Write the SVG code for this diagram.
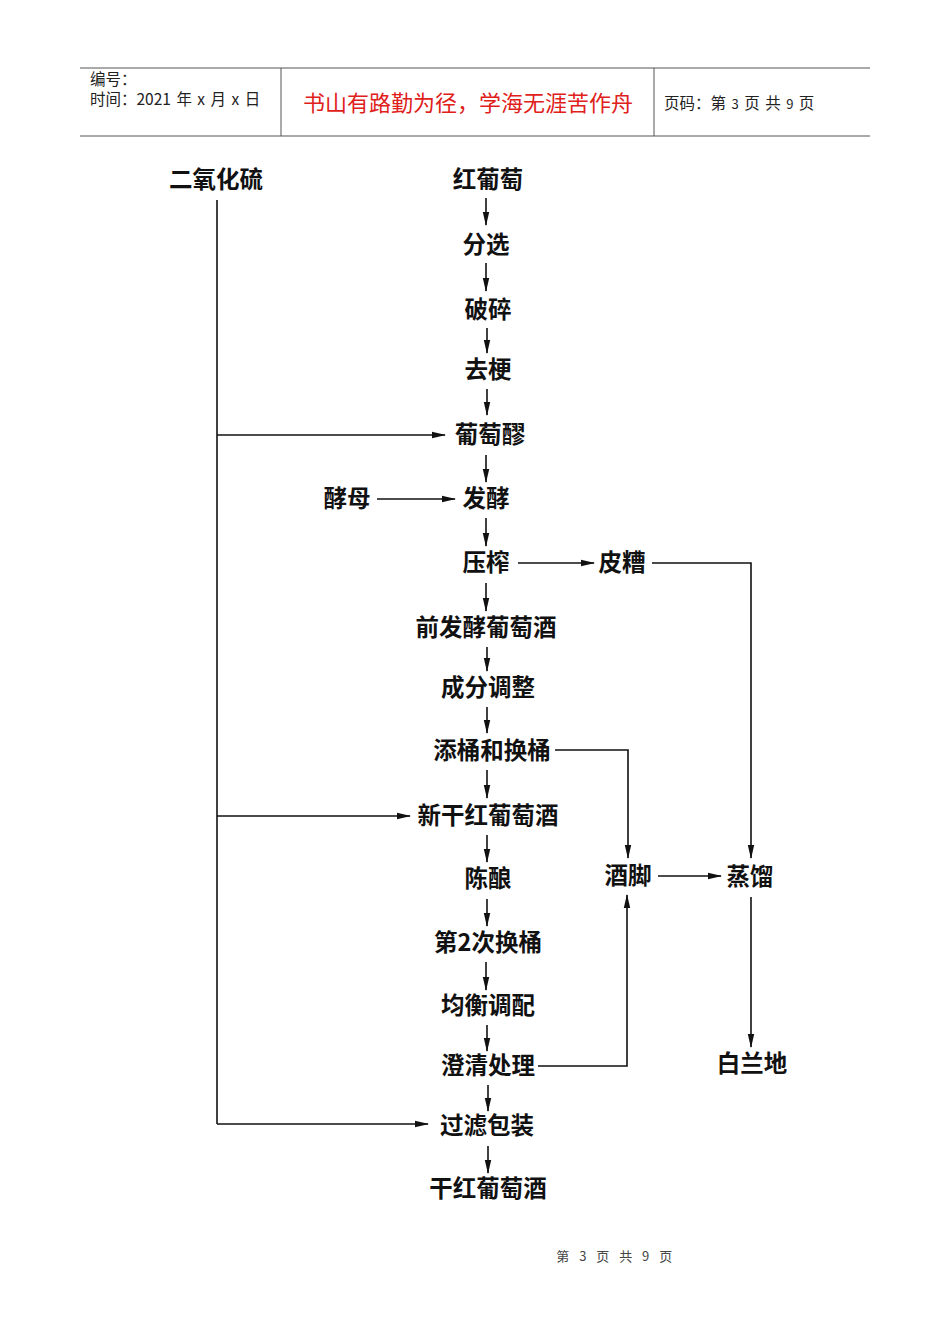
<svg xmlns="http://www.w3.org/2000/svg" width="950" height="1344" viewBox="0 0 950 1344">
<style>
.n{font-family:"Noto Sans CJK SC","Liberation Sans",sans-serif;font-size:23.5px;font-weight:bold;fill:#111;text-anchor:middle;dominant-baseline:central}
.h{font-family:"Noto Sans CJK SC","Liberation Sans",sans-serif;font-size:15.5px;fill:#222}
.c{fill:none;stroke:#111;stroke-width:1.6}
</style>
<defs>
<marker id="a" markerUnits="userSpaceOnUse" markerWidth="14" markerHeight="8" refX="13" refY="4" orient="auto">
<path d="M0,0.8 L14,4 L0,7.2 Z" fill="#111"/>
</marker>
</defs>
<rect width="950" height="1344" fill="#fff"/>
<g id="header">
<line x1="80" y1="68" x2="870" y2="68" stroke="#555" stroke-width="1"/>
<line x1="80" y1="136" x2="870" y2="136" stroke="#555" stroke-width="1"/>
<line x1="281" y1="68" x2="281" y2="136" stroke="#555" stroke-width="1"/>
<line x1="654" y1="68" x2="654" y2="136" stroke="#555" stroke-width="1"/>
<text class="h" x="90" y="85">编号：</text>
<text class="h" x="90" y="105" word-spacing="2">时间：2021 年 x 月 x 日</text>
<text x="468" y="111" font-family="Noto Sans CJK SC,sans-serif" font-size="22" fill="#e0201a" text-anchor="middle">书山有路勤为径，学海无涯苦作舟</text>
<text class="h" x="664" y="109" word-spacing="2">页码：第 <tspan font-size="13">3</tspan> 页  共 <tspan font-size="13">9</tspan> 页</text>
</g>
<g id="connectors">
<line class="c" x1="217" y1="200" x2="217" y2="1124"/>
<line class="c" x1="217" y1="435" x2="445" y2="435" marker-end="url(#a)"/>
<line class="c" x1="217" y1="816" x2="410" y2="816" marker-end="url(#a)"/>
<line class="c" x1="217" y1="1124" x2="428" y2="1124" marker-end="url(#a)"/>
<line class="c" x1="377" y1="499" x2="455" y2="499" marker-end="url(#a)"/>
<line class="c" x1="518" y1="563" x2="594" y2="563" marker-end="url(#a)"/>
<polyline class="c" points="652,563 751,563 751,858" marker-end="url(#a)"/>
<polyline class="c" points="555,750 628,750 628,858" marker-end="url(#a)"/>
<polyline class="c" points="538,1066 627,1066 627,895" marker-end="url(#a)"/>
<line class="c" x1="658" y1="876" x2="721" y2="876" marker-end="url(#a)"/>
<line class="c" x1="751" y1="897" x2="751" y2="1047" marker-end="url(#a)"/>
<line class="c" x1="486" y1="198" x2="486" y2="225" marker-end="url(#a)"/>
<line class="c" x1="486" y1="263" x2="486" y2="291" marker-end="url(#a)"/>
<line class="c" x1="487" y1="328" x2="487" y2="353" marker-end="url(#a)"/>
<line class="c" x1="487" y1="389" x2="487" y2="415" marker-end="url(#a)"/>
<line class="c" x1="486" y1="455" x2="486" y2="482" marker-end="url(#a)"/>
<line class="c" x1="486" y1="518" x2="486" y2="546" marker-end="url(#a)"/>
<line class="c" x1="486" y1="583" x2="486" y2="611" marker-end="url(#a)"/>
<line class="c" x1="487" y1="647" x2="487" y2="671" marker-end="url(#a)"/>
<line class="c" x1="487" y1="707" x2="487" y2="733" marker-end="url(#a)"/>
<line class="c" x1="487" y1="770" x2="487" y2="798" marker-end="url(#a)"/>
<line class="c" x1="487" y1="835" x2="487" y2="862" marker-end="url(#a)"/>
<line class="c" x1="487" y1="899" x2="487" y2="926" marker-end="url(#a)"/>
<line class="c" x1="486" y1="962" x2="486" y2="990" marker-end="url(#a)"/>
<line class="c" x1="487" y1="1025" x2="487" y2="1051" marker-end="url(#a)"/>
<line class="c" x1="488" y1="1085" x2="488" y2="1111" marker-end="url(#a)"/>
<line class="c" x1="488" y1="1146" x2="488" y2="1173" marker-end="url(#a)"/>
</g>
<g id="n-so2"><text class="n" x="216" y="178">二氧化硫</text></g>
<g id="n-grape"><text class="n" x="488" y="178">红葡萄</text></g>
<g id="n-sort"><text class="n" x="486" y="243">分选</text></g>
<g id="n-crush"><text class="n" x="488" y="308">破碎</text></g>
<g id="n-destem"><text class="n" x="488" y="368">去梗</text></g>
<g id="n-must"><text class="n" x="490" y="433">葡萄醪</text></g>
<g id="n-yeast"><text class="n" x="347" y="497">酵母</text></g>
<g id="n-ferment"><text class="n" x="486" y="497">发酵</text></g>
<g id="n-press"><text class="n" x="486" y="561">压榨</text></g>
<g id="n-pomace"><text class="n" x="622" y="561">皮糟</text></g>
<g id="n-prewine"><text class="n" x="486" y="626">前发酵葡萄酒</text></g>
<g id="n-adjust"><text class="n" x="488" y="686">成分调整</text></g>
<g id="n-topping"><text class="n" x="492" y="749">添桶和换桶</text></g>
<g id="n-newwine"><text class="n" x="488" y="814">新干红葡萄酒</text></g>
<g id="n-aging"><text class="n" x="488" y="877">陈酿</text></g>
<g id="n-lees"><text class="n" x="628" y="874">酒脚</text></g>
<g id="n-distill"><text class="n" x="750" y="875">蒸馏</text></g>
<g id="n-rack2"><text class="n" x="488" y="941">第2次换桶</text></g>
<g id="n-blend"><text class="n" x="488" y="1004">均衡调配</text></g>
<g id="n-clarify"><text class="n" x="488" y="1064">澄清处理</text></g>
<g id="n-brandy"><text class="n" x="752" y="1062">白兰地</text></g>
<g id="n-filter"><text class="n" x="487" y="1124">过滤包装</text></g>
<g id="n-drywine"><text class="n" x="488" y="1187">干红葡萄酒</text></g>
<g id="footer"><text x="616" y="1261" font-family="Noto Sans CJK SC,sans-serif" font-size="13" letter-spacing="3.5" fill="#444" text-anchor="middle">第 3 页 共 9 页</text></g>
</svg>
